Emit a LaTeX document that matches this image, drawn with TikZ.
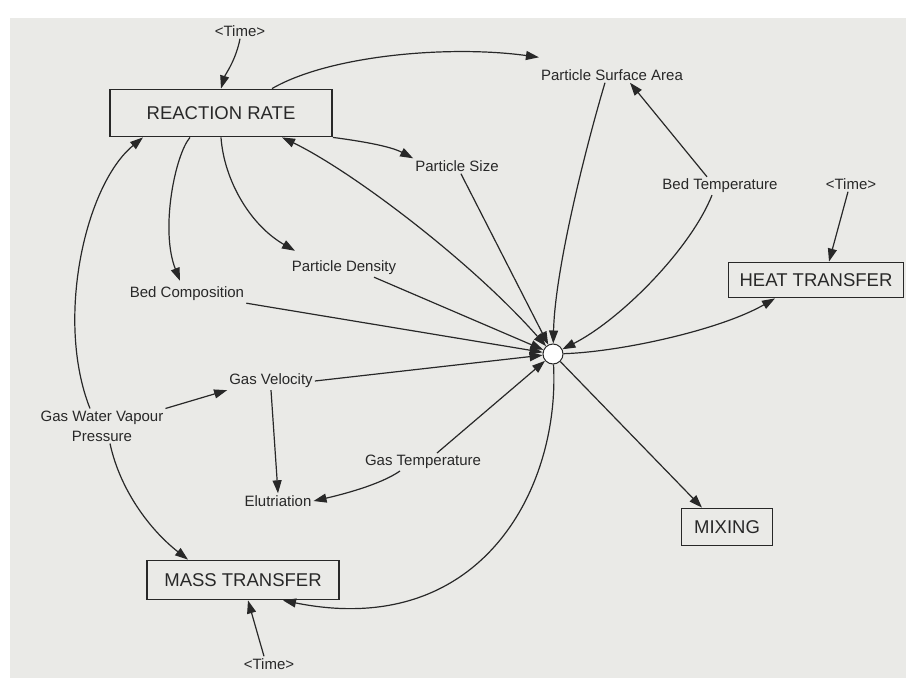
\documentclass[tikz,border=0pt]{standalone}
\usepackage{fontspec}
\setmainfont{Liberation Sans}
\usetikzlibrary{arrows.meta}
\definecolor{paper}{RGB}{234,234,231}
\definecolor{ink}{RGB}{40,40,40}
\tikzset{
  arr/.tip={Triangle[length=13pt,width=9pt]},
  box/.style={draw=ink,line width=1.8pt,inner sep=0pt,text=ink,font=\fontsize{18.5}{20}\selectfont},
  lbl/.style={inner sep=2pt,text=ink,align=center,font=\fontsize{15}{20}\selectfont},
  conn/.style={draw=ink,line width=1.2pt,-arr},
  hubdot/.style={circle,draw=ink,line width=1pt,fill=white,minimum size=20pt,inner sep=0pt}
}
\begin{document}
\begin{tikzpicture}[x=1pt,y=-1pt]
                \useasboundingbox (0,0) rectangle (906,678);
                \fill[white] (0,0) rectangle (906,678);
                \fill[paper] (10,18) rectangle (906,678);
                \node[lbl] (timeA) at (240,31) {<Time>};
                \node[box,minimum width=222pt,minimum height=47pt] (rate) at (221,113) {REACTION RATE};
                \node[lbl] (psa) at (612,75) {Particle Surface Area};
                \node[lbl] (psize) at (457,166) {Particle Size};
                \node[lbl] (btemp) at (720,186) {Bed Temperature};
                \node[lbl] (timeB) at (851,184) {<Time>};
                \node[box,minimum width=175pt,minimum height=35pt] (heat) at (816,280) {HEAT TRANSFER};
                \node[lbl] (pdens) at (344,268) {Particle Density};
                \node[lbl] (bcomp) at (187,294) {Bed Composition};
                \node[hubdot] (hub) at (553,354) {};
                \node[lbl] (gvel) at (271,381) {Gas Velocity};
                \node[lbl] (gwvp) at (102,426) {Gas Water Vapour\\Pressure};
                \node[lbl] (gtemp) at (423,462) {Gas Temperature};
                \node[lbl] (elut) at (278,501) {Elutriation};
                \node[box,minimum width=91pt,minimum height=37pt] (mixing) at (727,527) {MIXING};
                \node[box,minimum width=192pt,minimum height=39pt] (mass) at (243,580) {MASS TRANSFER};
                \node[lbl] (timeC) at (269,664) {<Time>};
                \draw[conn] (timeA.south) .. controls (236,60) and (225,75) .. (rate.north);
                \draw[conn] ([xshift=51pt]rate.north) .. controls (330,55) and (450,45) .. ([yshift=10pt]psa.north west);
                \draw[conn] (rate.south east) .. controls (360,141) and (390,146) .. (psize.north west);
                \draw[conn] (rate.south) .. controls (224,180) and (250,225) .. ([xshift=-49pt,yshift=8pt]pdens.north);
                \draw[conn] ([xshift=-31pt]rate.south) .. controls (175,155) and (160,230) .. ([xshift=-7pt,yshift=4pt]bcomp.north);
                \draw[conn] ([xshift=-12pt]gwvp.north) .. controls (55,320) and (85,185) .. ([xshift=-78pt]rate.south);
                \draw[conn,arr-arr] ([xshift=61pt]rate.south) .. controls (350,170) and (470,260) .. (hub);
                \draw[conn] (psize) -- (hub);
                \draw[conn] ([xshift=-7pt]psa.south) .. controls (585,150) and (555,270) .. (hub);
                \draw[conn] ([xshift=-13pt]btemp.north) -- ([xshift=18pt]psa.south);
                \draw[conn] ([xshift=-8pt]btemp.south) .. controls (690,250) and (620,320) .. (hub);
                \draw[conn] ([xshift=-3pt]timeB.south) -- ([xshift=13pt]heat.north);
                \draw[conn] (hub) .. controls (620,352) and (720,330) .. ([xshift=-41pt]heat.south);
                \draw[conn] (bcomp.south east) -- (hub);
                \draw[conn] ([xshift=30pt]pdens.south) -- (hub);
                \draw[conn] (gvel.east) -- (hub);
                \draw[conn] ([xshift=14pt]gtemp.north) -- (hub);
                \draw[conn] (hub) -- ([xshift=-25pt]mixing.north);
                \draw[conn] (hub) .. controls (560,490) and (480,640) .. ([xshift=40pt]mass.south);
                \draw[conn] ([xshift=-5pt]timeC.north) -- ([xshift=5pt]mass.south);
                \draw[conn] ([xshift=8pt]gwvp.south) .. controls (120,490) and (150,530) .. ([xshift=-55pt]mass.north);
                \draw[conn] (gwvp.north east) -- (gvel.south west);
                \draw[conn] (gvel.south) -- (elut.north);
                \draw[conn] ([xshift=-23pt]gtemp.south) .. controls (380,485) and (340,495) .. (elut.east);
            \end{tikzpicture}
\end{document}
